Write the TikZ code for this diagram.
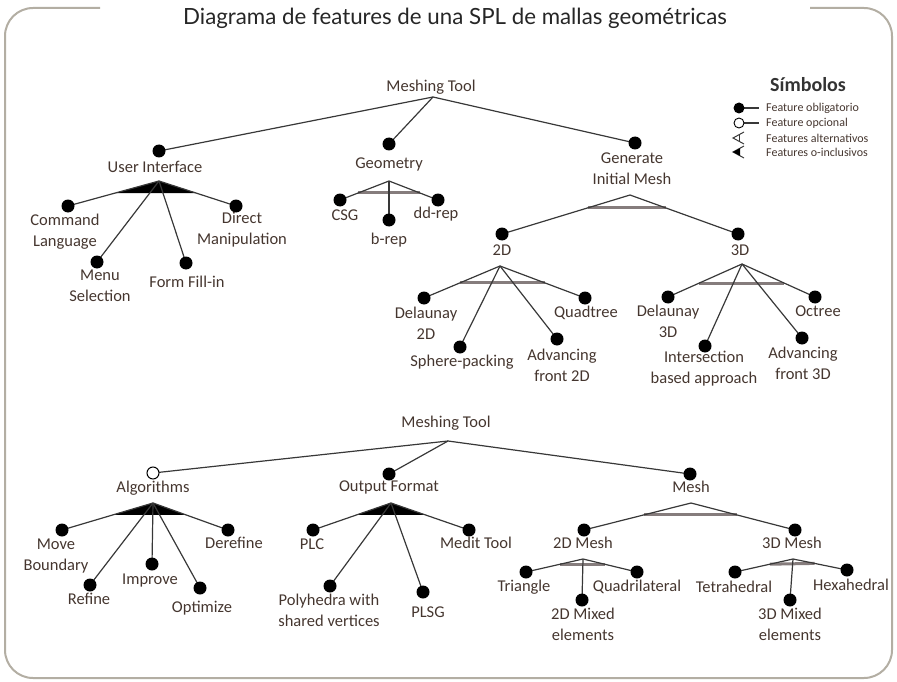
\documentclass[tikz,border=0pt]{standalone}
\usepackage{fontspec}
\setmainfont{Carlito}
\newfontfamily\titlefont{Lato}
\usetikzlibrary{calc}
\definecolor{lbl}{HTML}{45362F}
\definecolor{frm}{HTML}{B3AEA3}
\definecolor{cnx}{HTML}{383838}
\definecolor{bar}{HTML}{857C7C}
\begin{document}
\begin{tikzpicture}[x=1pt,y=-1pt,
  lab/.style={text=lbl,font=\fontsize{16.5}{21}\selectfont,align=center,inner sep=0pt},
  leg/.style={text=lbl,font=\fontsize{12}{14}\selectfont,anchor=west,inner sep=0pt},
  dot/.style={circle,fill=black,inner sep=0pt,minimum size=13pt},
  odot/.style={circle,draw=black,fill=white,line width=1pt,inner sep=0pt,minimum size=12pt},
  sdot/.style={circle,fill=black,inner sep=0pt,minimum size=11pt},
  sodot/.style={circle,draw=black,fill=white,line width=0.9pt,inner sep=0pt,minimum size=10pt},
  cn/.style={draw=cnx,line width=1.2pt},
  xbar/.style={draw=bar,line width=3pt},
]
\useasboundingbox (0,0) rectangle (897,682);
% frame and title
\draw[frm,line width=2pt,rounded corners=28pt] (100,8) -- (5,8) -- (5,678) -- (892,678) -- (892,8) -- (810,8);
\node[font=\titlefont\fontsize{22.3}{26}\selectfont,text=black!85] (title) at (455,18) {Diagrama de features de una SPL de mallas geométricas};

% ---------- top tree coordinates ----------
\coordinate (t0) at (433,97);
\coordinate (ui) at (159,151); \coordinate (geo) at (389,144); \coordinate (gen) at (635,143);
\coordinate (uiA) at (159,181);
\coordinate (cl) at (68,206); \coordinate (ms) at (97,262); \coordinate (ff) at (186,263); \coordinate (dm) at (236,206);
\coordinate (geoA) at (389,181);
\coordinate (csg) at (340,200); \coordinate (brep) at (389,220); \coordinate (dd) at (438,200);
\coordinate (genA) at (630,195);
\coordinate (d2) at (502,234); \coordinate (d3) at (738,234);
\coordinate (d2A) at (500,266);
\coordinate (del2) at (424,298); \coordinate (sp) at (460,347); \coordinate (af2) at (557,339); \coordinate (qt) at (585,298);
\coordinate (d3A) at (742,264);
\coordinate (del3) at (668,297); \coordinate (is) at (705,346); \coordinate (af3) at (802,338); \coordinate (oct) at (815,297);

% ---------- bottom tree coordinates ----------
\coordinate (b0) at (448,441);
\coordinate (alg) at (153,473); \coordinate (of) at (389,474); \coordinate (mesh) at (690,474);
\coordinate (algA) at (153,503);
\coordinate (mb) at (62,530); \coordinate (rf) at (90,585); \coordinate (im) at (152,564); \coordinate (op) at (200,588); \coordinate (df) at (228,530);
\coordinate (ofA) at (391,503);
\coordinate (plc) at (313,530); \coordinate (ph) at (330,586); \coordinate (plsg) at (423,592); \coordinate (mt) at (469,530);
\coordinate (meshA) at (691,503);
\coordinate (m2) at (584,530); \coordinate (m3) at (795,530);
\coordinate (m2A) at (583,559);
\coordinate (tr) at (526,572); \coordinate (mx2) at (582,600); \coordinate (qd) at (637,572);
\coordinate (m3A) at (793,559);
\coordinate (te) at (735,572); \coordinate (mx3) at (790,600); \coordinate (hx) at (847,570);

% ---------- group marks ----------
\fill[black] (uiA) -- ($(uiA)!0.48!(cl)$) -- ($(uiA)!0.48!(dm)$) -- cycle;
\fill[black] (algA) -- ($(algA)!0.44!(mb)$) -- ($(algA)!0.44!(df)$) -- cycle;
\fill[black] (ofA) -- ($(ofA)!0.44!(plc)$) -- ($(ofA)!0.44!(mt)$) -- cycle;
\draw[xbar] ($(geoA)!0.63!(csg)$) -- ($(geoA)!0.63!(dd)$);
\draw[xbar] ($(genA)!0.33!(d2)$) -- ($(genA)!0.33!(d3)$);
\draw[xbar] ($(d2A)!0.53!(del2)$) -- ($(d2A)!0.53!(qt)$);
\draw[xbar] ($(d3A)!0.58!(del3)$) -- ($(d3A)!0.58!(oct)$);
\draw[xbar] ($(meshA)!0.44!(m2)$) -- ($(meshA)!0.44!(m3)$);
\draw[xbar] ($(m2A)!0.4!(tr)$) -- ($(m2A)!0.4!(qd)$);
\draw[xbar] ($(m3A)!0.4!(te)$) -- ($(m3A)!0.4!(hx)$);

% ---------- connectors ----------
\foreach \a/\b in {t0/ui,t0/geo,t0/gen,uiA/cl,uiA/ms,uiA/ff,uiA/dm,geoA/csg,geoA/brep,geoA/dd,
  genA/d2,genA/d3,d2A/del2,d2A/sp,d2A/af2,d2A/qt,d3A/del3,d3A/is,d3A/af3,d3A/oct,
  b0/alg,b0/of,b0/mesh,algA/mb,algA/rf,algA/im,algA/op,algA/df,ofA/plc,ofA/ph,ofA/plsg,ofA/mt,
  meshA/m2,meshA/m3,m2A/tr,m2A/mx2,m2A/qd,m3A/te,m3A/mx3,m3A/hx}
  \draw[cn] (\a) -- (\b);

% ---------- dots ----------
\foreach \p in {ui,geo,gen,cl,ms,ff,dm,csg,brep,dd,d2,d3,del2,sp,af2,qt,del3,is,af3,oct,
  of,mesh,mb,rf,im,op,df,plc,ph,plsg,mt,m2,m3,tr,mx2,qd,te,mx3,hx}
  \node[dot] (\p D) at (\p) {};
\node[odot] (algD) at (alg) {};

% ---------- labels ----------
\node[lab] (t0L) at (431,87) {Meshing Tool};
\node[lab] (uiL) at (155,167) {User Interface};
\node[lab] (geoL) at (389,164) {Geometry};
\node[lab] (genL) at (632,169) {Generate\\Initial Mesh};
\node[lab] (clL) at (65,232) {Command\\Language};
\node[lab] (msL) at (100,286) {Menu\\Selection};
\node[lab] (ffL) at (187,282) {Form Fill-in};
\node[lab] (dmL) at (242,230) {Direct\\Manipulation};
\node[lab] (csgL) at (345,215) {CSG};
\node[lab] (brepL) at (389,240) {b-rep};
\node[lab] (ddL) at (436,214) {dd-rep};
\node[lab] (d2L) at (502,250) {2D};
\node[lab] (d3L) at (740,250) {3D};
\node[lab] (del2L) at (426,323) {Delaunay\\2D};
\node[lab] (qtL) at (586,313) {Quadtree};
\node[lab] (spL) at (462,362) {Sphere-packing};
\node[lab] (af2L) at (562,365) {Advancing\\front 2D};
\node[lab] (del3L) at (668,321) {Delaunay\\3D};
\node[lab] (octL) at (818,311) {Octree};
\node[lab] (isL) at (704,369) {Intersection\\based approach};
\node[lab] (af3L) at (803,363) {Advancing\\front 3D};

\node[lab] (b0L) at (446,423) {Meshing Tool};
\node[lab] (algL) at (153,488) {Algorithms};
\node[lab] (ofL) at (389,487) {Output Format};
\node[lab] (meshL) at (691,487) {Mesh};
\node[lab] (mbL) at (56,556) {Move\\Boundary};
\node[lab] (rfL) at (89,599) {Refine};
\node[lab] (imL) at (150,581) {Improve};
\node[lab] (opL) at (202,608) {Optimize};
\node[lab] (dfL) at (234,543) {Derefine};
\node[lab] (plcL) at (312,544) {PLC};
\node[lab] (phL) at (329,610) {Polyhedra with\\shared vertices};
\node[lab] (plsgL) at (428,612) {PLSG};
\node[lab] (mtL) at (476,543) {Medit Tool};
\node[lab] (m2L) at (583,543) {2D Mesh};
\node[lab] (m3L) at (792,543) {3D Mesh};
\node[lab] (trL) at (524,587) {Triangle};
\node[lab] (qdL) at (637,587) {Quadrilateral};
\node[lab] (mx2L) at (583,624) {2D Mixed\\elements};
\node[lab] (teL) at (734,587) {Tetrahedral};
\node[lab] (hxL) at (851,585) {Hexahedral};
\node[lab] (mx3L) at (790,624) {3D Mixed\\elements};

% ---------- legend ----------
\node[font=\bfseries\fontsize{20}{24}\selectfont,text=black!80,inner sep=0pt] (symT) at (808,85) {Símbolos};
\coordinate (lg1) at (739,108); \coordinate (lg1e) at (759,108);
\coordinate (lg2) at (739,123); \coordinate (lg2e) at (759,123);
\draw[cn] (lg1) -- (lg1e);
\draw[cn] (lg2) -- (lg2e);
\node[sdot] (lg1D) at (lg1) {};
\node[sodot] (lg2D) at (lg2) {};
\coordinate (lg3) at (733,138);
\draw[cn,line width=1pt] ($(lg3)+(11,-6)$) -- (lg3) -- ($(lg3)+(11,6)$);
\draw[cn,line width=1pt] ($(lg3)+(6,-3.3)$) -- ($(lg3)+(6,3.3)$);
\coordinate (lg4) at (733,152);
\draw[cn,line width=1pt] ($(lg4)+(11,-6)$) -- (lg4) -- ($(lg4)+(11,6)$);
\fill[black] (lg4) -- ($(lg4)+(7,-3.8)$) -- ($(lg4)+(7,3.8)$) -- cycle;
\node[leg] (lt1) at (766,108) {Feature obligatorio};
\node[leg] (lt2) at (766,123) {Feature opcional};
\node[leg] (lt3) at (766,138) {Features alternativos};
\node[leg] (lt4) at (766,152) {Features o-inclusivos};
\end{tikzpicture}
\end{document}
